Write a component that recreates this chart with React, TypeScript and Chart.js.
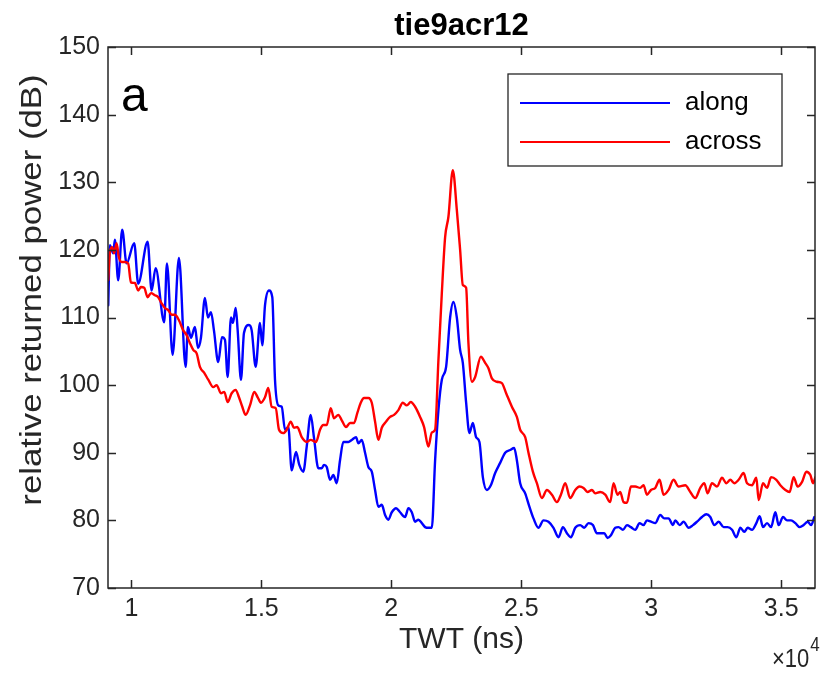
import React, { useEffect, useRef } from 'react';
import { Chart, registerables } from 'chart.js';

Chart.register(...registerables);

const FONT = '"Liberation Sans", Arial, Helvetica, sans-serif';
const AXIS_COLOR = '#262626';

const chartTitle = 'tie9acr12';
const panelLetter = 'a';
const xAxisTitle = 'TWT (ns)';
const yAxisTitle = 'relative returned power (dB)';
const xExponentBase = '\u00d710';
const xExponent = '4';

const xTickValues = [10000, 15000, 20000, 25000, 30000, 35000];
const xTickLabels = ['1', '1.5', '2', '2.5', '3', '3.5'];
const yTickValues = [70, 80, 90, 100, 110, 120, 130, 140, 150];

const seriesNames = ['along', 'across'];
const seriesColors = ['#0000ff', '#ff0000'];

const alongTwt = [9110, 9172, 9300, 9365, 9492, 9646, 9815, 10108, 10262, 10624, 10778, 10932, 11263, 11367, 11586, 11829, 12087, 12175, 12291, 12445, 12560, 12676, 12830, 12945, 13061, 13176, 13342, 13484, 13600, 13704, 13831, 13908, 14012, 14089, 14216, 14331, 14524, 14628, 14782, 14947, 15036, 15140, 15294, 15421, 15525, 15652, 15783, 15910, 16037, 16168, 16333, 16460, 16614, 16745, 16899, 17026, 17192, 17323, 17411, 17515, 17642, 17769, 17900, 18027, 18154, 18347, 18478, 18643, 18732, 18863, 18990, 19117, 19248, 19375, 19502, 19633, 19760, 19887, 20018, 20183, 20337, 20530, 20657, 20788, 20915, 21042, 21173, 21300, 21427, 21558, 21685, 21812, 21943, 22108, 22262, 22389, 22520, 22647, 22751, 22878, 23005, 23136, 23263, 23390, 23521, 23675, 23829, 23995, 24187, 24380, 24572, 24726, 24830, 24957, 25150, 25315, 25469, 25662, 25854, 26047, 26239, 26432, 26601, 26755, 26909, 27075, 27267, 27421, 27587, 27756, 27910, 28064, 28191, 28318, 28449, 28615, 28742, 28911, 29065, 29219, 29385, 29550, 29704, 29835, 29989, 30155, 30347, 30501, 30667, 30836, 30925, 31090, 31244, 31437, 31606, 31760, 31953, 32118, 32272, 32426, 32592, 32784, 32938, 33108, 33273, 33427, 33581, 33708, 33878, 34043, 34170, 34301, 34455, 34609, 34775, 34902, 35071, 35225, 35379, 35545, 35710, 35864, 36018, 36149, 36276];

const alongDb = [111.8, 120.7, 119.5, 121.5, 115.5, 123, 118, 121, 115, 121.2, 114, 117.3, 109.3, 118, 104.5, 118.8, 102.7, 108.6, 107, 108.6, 105.5, 107, 112.9, 110, 110.8, 108.1, 103.4, 107.1, 106.7, 101.2, 110, 109.2, 111.4, 108.1, 100.8, 107.7, 108.9, 108.1, 102.7, 109.2, 105.9, 111.8, 114, 113, 100.8, 97, 96.8, 93.4, 93.8, 87.4, 90.1, 88.2, 87.2, 90.9, 95.6, 92.2, 87.7, 87.7, 88.2, 87.9, 86, 86.7, 85.5, 88.9, 91.6, 91.6, 91.9, 92.3, 91.4, 91.9, 90, 87.9, 87.2, 84.5, 82, 82.3, 80.8, 80.1, 81.2, 81.8, 81.2, 80.5, 81.8, 81.2, 79.8, 80.1, 79.6, 79, 78.9, 78.9, 88.9, 96.3, 100.8, 102.7, 110, 112.3, 110, 105.2, 103.3, 97.4, 92.9, 94.4, 92.3, 91.6, 86.4, 84.5, 85.2, 87, 88.5, 90, 90.4, 90.7, 88.9, 85.5, 84, 82, 80.3, 78.9, 80, 79.8, 78.9, 77.5, 79, 78.1, 77.5, 78.9, 79.3, 78.9, 79.6, 79.3, 78.1, 78.1, 78.1, 77.4, 77.8, 78.9, 79, 78.6, 79.3, 79, 78.6, 79.6, 79.3, 80, 79.8, 79.6, 80.8, 80.3, 80.3, 79.3, 80, 79.3, 79.8, 78.9, 79.3, 79.8, 80.5, 80.9, 80.5, 79.3, 79.8, 79, 79, 78.6, 77.5, 78.9, 78.3, 78.9, 78.6, 79.6, 80.6, 79, 79.6, 79, 81.2, 79.3, 80.5, 80, 80, 79.6, 79, 79.3, 79.8, 79.3, 80.5];

const acrossTwt = [9110, 9172, 9261, 9338, 9430, 9519, 9623, 9750, 9877, 9981, 10135, 10262, 10366, 10493, 10624, 10751, 10905, 11032, 11163, 11290, 11417, 11548, 11675, 11829, 11994, 12125, 12252, 12379, 12510, 12637, 12803, 12957, 13149, 13280, 13446, 13573, 13704, 13858, 14012, 14139, 14266, 14397, 14562, 14728, 14859, 14986, 15140, 15267, 15398, 15552, 15679, 15844, 15975, 16129, 16256, 16383, 16553, 16745, 16899, 17103, 17257, 17384, 17515, 17669, 17796, 17962, 18093, 18258, 18412, 18566, 18693, 18824, 18951, 19117, 19248, 19375, 19502, 19633, 19798, 19952, 20106, 20272, 20441, 20595, 20749, 20915, 21107, 21261, 21427, 21558, 21685, 21812, 21943, 22070, 22197, 22366, 22520, 22647, 22751, 22878, 22967, 23098, 23225, 23444, 23610, 23737, 23868, 24060, 24253, 24418, 24638, 24830, 24957, 25150, 25277, 25446, 25600, 25793, 25985, 26178, 26370, 26524, 26690, 26882, 27075, 27240, 27394, 27548, 27718, 27845, 28037, 28230, 28422, 28549, 28703, 28807, 28934, 29065, 29219, 29385, 29577, 29704, 29835, 29989, 30155, 30320, 30474, 30667, 30859, 31052, 31310, 31502, 31695, 31887, 32041, 32168, 32338, 32530, 32723, 32888, 33042, 33196, 33362, 33554, 33685, 33878, 34043, 34132, 34301, 34455, 34609, 34813, 34967, 35160, 35325, 35479, 35633, 35803, 35968, 36122, 36226, 36315];

const acrossDb = [115.5, 119.7, 120.4, 119.5, 121, 118.9, 118.2, 118.2, 118, 115.2, 115.1, 114, 114.5, 114.4, 113, 113.6, 113.3, 113, 112.1, 111.4, 111.1, 110.4, 110.4, 109.6, 108.1, 107.4, 106.2, 105.2, 104.7, 102.7, 101.8, 100.8, 99.7, 100, 98.8, 99, 97.5, 98.8, 99.3, 98.2, 96.8, 95.6, 97, 99, 98.2, 97.4, 98.2, 99.6, 96.8, 96.6, 93.4, 92.9, 93.4, 94.6, 93.7, 93.8, 92.3, 91.6, 91.9, 91.6, 93.4, 94.1, 94.1, 96.6, 95.1, 95.6, 94.8, 93.8, 94.4, 94.4, 95.9, 97.4, 98.1, 98.1, 97.4, 94.6, 91.9, 93.7, 94.6, 95.3, 95.6, 96.3, 97.4, 97, 97.5, 96.8, 95.3, 93.8, 90.9, 93, 93.4, 103.7, 113.6, 121.9, 124.9, 131.8, 125.9, 120, 114.8, 114.4, 106.2, 100.5, 101.2, 104.2, 103.3, 102.5, 101, 100.5, 100.3, 98.8, 96.8, 95.3, 93.4, 92.3, 90, 87.2, 85.5, 83.3, 84.5, 83.8, 82.7, 83.8, 85.5, 83.3, 84.5, 85, 84.8, 84.2, 84.5, 84, 84.2, 83.8, 82.7, 85.5, 83.8, 84.2, 82.7, 82.6, 85, 85, 84.8, 85.2, 83.8, 84.5, 84.8, 86, 83.8, 84.5, 86, 85, 85.2, 84.2, 83.3, 84.8, 85.5, 84, 85.5, 85, 86.3, 85.5, 86, 85.5, 86, 87, 85.5, 85.2, 86.3, 83, 85.5, 84.8, 86.4, 86, 85.2, 84.5, 84.2, 86.4, 85, 85.7, 87.2, 86.7, 85.5, 86.4];

const xMin = 9100;
const xMax = 36300;
const yMin = 70;
const yMax = 150;

const decorPlugin = {
  id: 'matlabDecor',
  afterDraw(chart: any) {
    const { ctx, chartArea: a, scales } = chart;
    const xs = scales.x;
    const ys = scales.y;
    ctx.save();

    // axes box
    ctx.strokeStyle = AXIS_COLOR;
    ctx.lineWidth = 1.5;
    ctx.strokeRect(a.left, a.top, a.right - a.left, a.bottom - a.top);

    // inward ticks on all sides
    const tl = 8;
    ctx.beginPath();
    xTickValues.forEach((v) => {
      const px = Math.round(xs.getPixelForValue(v)) + 0.5;
      ctx.moveTo(px, a.bottom);
      ctx.lineTo(px, a.bottom - tl);
      ctx.moveTo(px, a.top);
      ctx.lineTo(px, a.top + tl);
    });
    yTickValues.forEach((v) => {
      const py = Math.round(ys.getPixelForValue(v)) + 0.5;
      ctx.moveTo(a.left, py);
      ctx.lineTo(a.left + tl, py);
      ctx.moveTo(a.right, py);
      ctx.lineTo(a.right - tl, py);
    });
    ctx.stroke();

    const cx = (a.left + a.right) / 2;

    // title
    ctx.fillStyle = '#000';
    ctx.font = `bold 31px ${FONT}`;
    ctx.textAlign = 'center';
    ctx.textBaseline = 'alphabetic';
    ctx.fillText(chartTitle, cx, a.top - 12);

    // panel letter
    ctx.font = `48px ${FONT}`;
    ctx.textAlign = 'left';
    ctx.fillText(panelLetter, a.left + 13, a.top + 64);

    // x axis title
    ctx.fillStyle = AXIS_COLOR;
    ctx.font = `30px ${FONT}`;
    ctx.textAlign = 'center';
    ctx.fillText(xAxisTitle, cx, a.bottom + 60);

    // exponent (slightly tall glyphs, as in the reference)
    ctx.save();
    const ex = a.right - 43;
    ctx.translate(ex, a.bottom + 79);
    ctx.scale(1, 1.2);
    ctx.textAlign = 'left';
    ctx.font = `22px ${FONT}`;
    ctx.fillText(xExponentBase, 0, 0);
    const w = ctx.measureText(xExponentBase).width;
    ctx.font = `17px ${FONT}`;
    ctx.fillText(xExponent, w + 1, -13);
    ctx.restore();

    // y axis title
    ctx.save();
    ctx.translate(33, 290);
    ctx.rotate(-Math.PI / 2);
    ctx.scale(1.2, 1);
    ctx.font = `29px ${FONT}`;
    ctx.textAlign = 'center';
    ctx.textBaseline = 'middle';
    ctx.fillText(yAxisTitle, 0, 0);
    ctx.restore();

    // legend
    const lw = 274;
    const lh = 92;
    const lx = a.right - 33 - lw;
    const ly = a.top + 27;
    ctx.fillStyle = '#fff';
    ctx.fillRect(lx, ly, lw, lh);
    ctx.strokeStyle = AXIS_COLOR;
    ctx.lineWidth = 1.3;
    ctx.strokeRect(lx, ly, lw, lh);
    const rowY = [ly + 29, ly + 68];
    chart.data.datasets.forEach((ds: any, i: number) => {
      const ry = rowY[i];
      ctx.strokeStyle = ds.borderColor;
      ctx.lineWidth = 2.2;
      ctx.beginPath();
      ctx.moveTo(lx + 12, ry);
      ctx.lineTo(lx + 162, ry);
      ctx.stroke();
      ctx.fillStyle = '#000';
      ctx.font = `26px ${FONT}`;
      ctx.textAlign = 'left';
      ctx.textBaseline = 'middle';
      ctx.fillText(ds.label, lx + 177, ry);
    });

    ctx.restore();
  },
};

export default function App() {
  const canvasRef = useRef<HTMLCanvasElement | null>(null);

  useEffect(() => {
    const canvas = canvasRef.current;
    if (!canvas) return;
    const alongData = alongTwt.map((x, i) => ({ x, y: alongDb[i] }));
    const acrossData = acrossTwt.map((x, i) => ({ x, y: acrossDb[i] }));

    const lineStyle = {
      borderWidth: 2.4,
      pointRadius: 0,
      cubicInterpolationMode: 'monotone' as const,
      borderJoinStyle: 'round' as const,
      borderCapStyle: 'round' as const,
    };

    const chart = new Chart(canvas, {
      type: 'line',
      data: {
        datasets: [
          {
            label: seriesNames[0],
            data: alongData,
            borderColor: seriesColors[0],
            backgroundColor: seriesColors[0],
            order: 2,
            ...lineStyle,
          },
          {
            label: seriesNames[1],
            data: acrossData,
            borderColor: seriesColors[1],
            backgroundColor: seriesColors[1],
            order: 1,
            ...lineStyle,
          },
        ],
      },
      options: {
        responsive: false,
        animation: false,
        devicePixelRatio: 1,
        layout: { padding: { top: 47, right: 5, left: 0, bottom: 0 } },
        plugins: {
          legend: { display: false },
          tooltip: { enabled: false },
          title: { display: false },
        },
        scales: {
          x: {
            type: 'linear',
            min: xMin,
            max: xMax,
            afterBuildTicks: (s: any) => {
              s.ticks = xTickValues.map((v) => ({ value: v }));
            },
            afterFit: (s: any) => {
              s.height = 89;
            },
            ticks: {
              autoSkip: false,
              maxRotation: 0,
              padding: 6,
              color: AXIS_COLOR,
              font: { size: 25, family: FONT },
              callback: (v: any) => {
                const idx = xTickValues.indexOf(Number(v));
                return idx >= 0 ? xTickLabels[idx] : '';
              },
            },
            grid: { display: false, drawTicks: false },
            border: { display: false },
          },
          y: {
            type: 'linear',
            min: yMin,
            max: yMax,
            afterBuildTicks: (s: any) => {
              s.ticks = yTickValues.map((v) => ({ value: v }));
            },
            afterFit: (s: any) => {
              s.width = 108;
            },
            ticks: {
              autoSkip: false,
              padding: 8,
              color: AXIS_COLOR,
              font: { size: 25, family: FONT },
              callback: (v: any) => String(v),
            },
            grid: { display: false, drawTicks: false },
            border: { display: false },
          },
        },
      },
      plugins: [decorPlugin],
    });

    return () => {
      chart.destroy();
    };
  }, []);

  return (
    <div style={{ position: 'fixed', left: 0, top: 0, width: 820, height: 677, background: '#fff' }}>
      <canvas ref={canvasRef} width={820} height={677} style={{ display: 'block', width: 820, height: 677 }} />
    </div>
  );
}
